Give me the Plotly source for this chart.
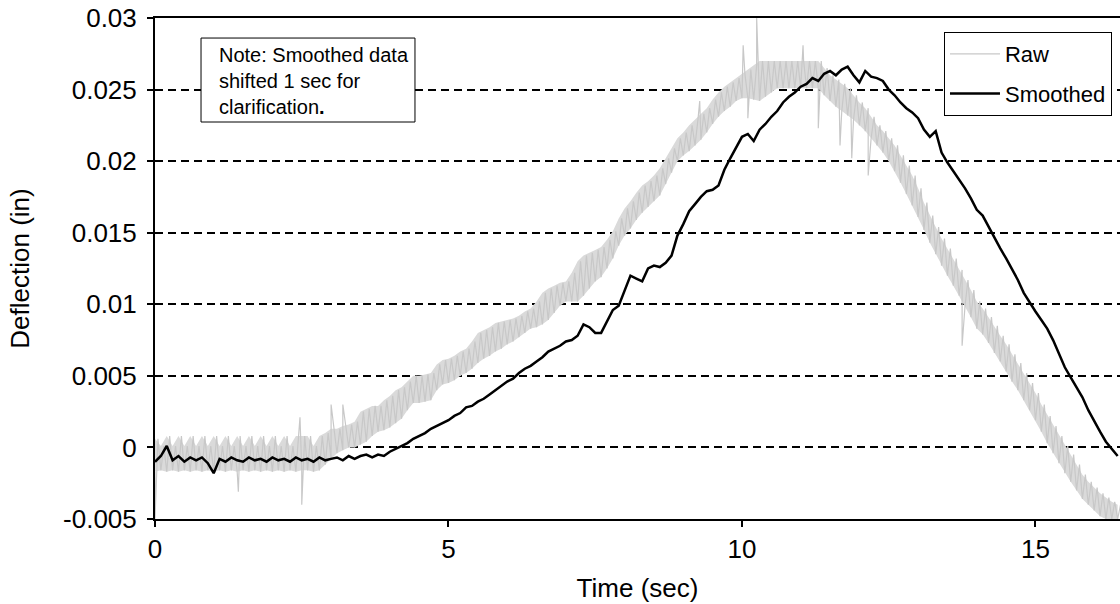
import numpy as np
import plotly.graph_objects as go

# ---------------- data ----------------
# sample times (s), 0.1 s spacing
time_s = np.round(np.arange(0, 16.45, 0.1), 1)

# Raw signal: lower / upper level of the quantised, rapidly toggling signal at each sample
raw_low = [
    -0.0017, -0.0016, -0.0017, -0.0016, -0.0017, -0.0016, -0.0017, -0.0016, -0.0017, -0.0016,
    -0.0017, -0.0016, -0.0017, -0.0016, -0.0017, -0.0016, -0.0017, -0.0016, -0.0017, -0.0016,
    -0.0017, -0.0016, -0.0017, -0.0016, -0.0017, -0.0016, -0.0016, -0.0017, -0.0016, -0.0012,
    -0.0008, -0.0004, -0.0002, 0.0000, 0.0000, 0.0002, 0.0004, 0.0008, 0.0011, 0.0012,
    0.0014, 0.0017, 0.0020, 0.0026, 0.0031, 0.0031, 0.0032, 0.0033, 0.0040, 0.0044,
    0.0045, 0.0047, 0.0050, 0.0052, 0.0055, 0.0059, 0.0062, 0.0064, 0.0067, 0.0069,
    0.0072, 0.0074, 0.0077, 0.0080, 0.0083, 0.0084, 0.0086, 0.0089, 0.0094, 0.0099,
    0.0102, 0.0102, 0.0102, 0.0106, 0.0111, 0.0116, 0.0119, 0.0125, 0.0132, 0.0141,
    0.0148, 0.0153, 0.0159, 0.0164, 0.0168, 0.0172, 0.0176, 0.0184, 0.0192, 0.0200,
    0.0204, 0.0207, 0.0211, 0.0215, 0.0220, 0.0226, 0.0231, 0.0235, 0.0238, 0.0242,
    0.0244, 0.0244, 0.0243, 0.0242, 0.0245, 0.0248, 0.0251, 0.0251, 0.0251, 0.0251,
    0.0251, 0.0251, 0.0251, 0.0251, 0.0246, 0.0242, 0.0238, 0.0235, 0.0232, 0.0229,
    0.0225, 0.0221, 0.0216, 0.0211, 0.0206, 0.0200, 0.0193, 0.0185, 0.0177, 0.0169,
    0.0161, 0.0152, 0.0143, 0.0135, 0.0127, 0.0120, 0.0113, 0.0106, 0.0099, 0.0091,
    0.0083, 0.0079, 0.0073, 0.0066, 0.0060, 0.0053, 0.0046, 0.0040, 0.0033, 0.0026,
    0.0019, 0.0011, 0.0003, -0.0004, -0.0011, -0.0018, -0.0024, -0.0030, -0.0036, -0.0040,
    -0.0044, -0.0048, -0.0050, -0.0050, -0.0050,
]
raw_high = [
    0.0006, 0.0001, 0.0008, 0.0001, 0.0008, 0.0001, 0.0008, 0.0001, 0.0008, 0.0001,
    0.0008, 0.0001, 0.0008, 0.0001, 0.0008, 0.0001, 0.0008, 0.0001, 0.0008, 0.0001,
    0.0008, 0.0001, 0.0008, 0.0001, 0.0008, 0.0008, 0.0008, 0.0001, 0.0008, 0.0010,
    0.0013, 0.0013, 0.0015, 0.0016, 0.0018, 0.0025, 0.0027, 0.0029, 0.0029, 0.0033,
    0.0036, 0.0040, 0.0042, 0.0046, 0.0050, 0.0050, 0.0051, 0.0052, 0.0058, 0.0061,
    0.0062, 0.0064, 0.0067, 0.0069, 0.0074, 0.0080, 0.0082, 0.0084, 0.0087, 0.0088,
    0.0089, 0.0090, 0.0092, 0.0095, 0.0097, 0.0102, 0.0108, 0.0111, 0.0113, 0.0115,
    0.0116, 0.0122, 0.0130, 0.0134, 0.0136, 0.0138, 0.0140, 0.0145, 0.0151, 0.0160,
    0.0167, 0.0172, 0.0178, 0.0183, 0.0186, 0.0190, 0.0195, 0.0202, 0.0209, 0.0216,
    0.0220, 0.0225, 0.0229, 0.0233, 0.0237, 0.0243, 0.0248, 0.0252, 0.0255, 0.0258,
    0.0261, 0.0264, 0.0267, 0.0270, 0.0270, 0.0270, 0.0270, 0.0270, 0.0270, 0.0270,
    0.0270, 0.0270, 0.0270, 0.0270, 0.0265, 0.0260, 0.0257, 0.0254, 0.0251, 0.0246,
    0.0241, 0.0237, 0.0231, 0.0225, 0.0221, 0.0216, 0.0211, 0.0204, 0.0197, 0.0190,
    0.0181, 0.0171, 0.0162, 0.0154, 0.0146, 0.0139, 0.0132, 0.0124, 0.0117, 0.0110,
    0.0102, 0.0097, 0.0091, 0.0085, 0.0078, 0.0072, 0.0065, 0.0059, 0.0052, 0.0045,
    0.0038, 0.0030, 0.0022, 0.0015, 0.0008, 0.0001, -0.0005, -0.0012, -0.0019, -0.0024,
    -0.0028, -0.0032, -0.0035, -0.0038, -0.0040,
]

# isolated spikes in the raw signal (time, value)
raw_spike_t = [0.0, 1.42, 2.47, 2.5, 3.0, 3.2, 9.28, 10.02, 10.1, 10.25, 11.04, 11.3, 11.67, 11.87, 12.15, 13.75]
raw_spike_v = [-0.0050, -0.0031, 0.0021, -0.0040, 0.0030, 0.0030, 0.0242, 0.0281, 0.0230, 0.0300,
               0.0281, 0.0223, 0.0211, 0.0202, 0.0190, 0.0071]

# Smoothed signal (already shifted 1 s in the original chart)
smoothed = [
    -0.0010, -0.0006, 0.0001, -0.0009, -0.0006, -0.0010, -0.0007, -0.0009, -0.0007, -0.0011,
    -0.0018, -0.0008, -0.0010, -0.0007, -0.0009, -0.0010, -0.0007, -0.0009, -0.0008, -0.0010,
    -0.0007, -0.0009, -0.0008, -0.0010, -0.0007, -0.0009, -0.0008, -0.0010, -0.0007, -0.0009,
    -0.0008, -0.0007, -0.0009, -0.0006, -0.0008, -0.0006, -0.0005, -0.0007, -0.0005, -0.0006,
    -0.0003, -0.0001, 0.0001, 0.0003, 0.0006, 0.0008, 0.0010, 0.0013, 0.0015, 0.0017,
    0.0019, 0.0022, 0.0024, 0.0028, 0.0029, 0.0032, 0.0034, 0.0037, 0.0040, 0.0043,
    0.0046, 0.0048, 0.0052, 0.0055, 0.0057, 0.0060, 0.0063, 0.0067, 0.0069, 0.0071,
    0.0074, 0.0075, 0.0078, 0.0086, 0.0084, 0.0080, 0.0080, 0.0088, 0.0096, 0.0099,
    0.0110, 0.0120, 0.0118, 0.0116, 0.0125, 0.0127, 0.0126, 0.0129, 0.0134, 0.0148,
    0.0156, 0.0165, 0.0170, 0.0175, 0.0179, 0.0180, 0.0183, 0.0194, 0.0202, 0.0209,
    0.0217, 0.0219, 0.0214, 0.0222, 0.0226, 0.0231, 0.0235, 0.0241, 0.0245, 0.0248,
    0.0252, 0.0254, 0.0258, 0.0256, 0.0261, 0.0263, 0.0260, 0.0264, 0.0266, 0.0260,
    0.0255, 0.0263, 0.0259, 0.0258, 0.0256, 0.0250, 0.0246, 0.0241, 0.0237, 0.0234,
    0.0230, 0.0222, 0.0217, 0.0221, 0.0206, 0.0199, 0.0193, 0.0187, 0.0181, 0.0174,
    0.0166, 0.0162, 0.0154, 0.0147, 0.0139, 0.0132, 0.0125, 0.0117, 0.0108, 0.0101,
    0.0095, 0.0089, 0.0083, 0.0075, 0.0065, 0.0056, 0.0049, 0.0042, 0.0035, 0.0026,
    0.0018, 0.0011, 0.0004, -0.0001, -0.0006,
]

x_ticks = [0, 5, 10, 15]
x_ticktext = ["0", "5", "10", "15"]
y_ticks = [-0.005, 0, 0.005, 0.01, 0.015, 0.02, 0.025, 0.03]
y_ticktext = ["-0.005", "0", "0.005", "0.01", "0.015", "0.02", "0.025", "0.03"]

series_names = ["Raw", "Smoothed"]
note_text = "Note: Smoothed data<br>shifted 1 sec for<br>clarification<b>.</b>"

# ---------------- build the toggling raw line (samples + spikes, in time order) ----------------
pts = []
for t, lo, hi in zip(time_s, raw_low, raw_high):
    pts.append((float(t), lo))
    pts.append((float(t) + 0.05, hi))
for ts, vs in zip(raw_spike_t, raw_spike_v):
    pts.append((ts + 1e-6, vs))
pts.sort(key=lambda p: p[0])
raw_x = [p[0] for p in pts]
raw_y = [p[1] for p in pts]

# envelope of the raw band (drawn as a light fill under the raw line)
band_x = list(time_s) + list(time_s[::-1])
band_y = list(raw_low) + list(raw_high[::-1])

FONT = "Liberation Sans, Arial, sans-serif"

fig = go.Figure()
fig.add_trace(go.Scatter(
    x=band_x, y=band_y, mode="lines", fill="toself",
    fillcolor="#dadada", line=dict(width=0, color="#dadada"),
    showlegend=False, hoverinfo="skip",
))
fig.add_trace(go.Scatter(
    x=raw_x, y=raw_y, mode="lines", name=series_names[0],
    line=dict(color="#c8c8c8", width=1.2),
    legendgroup="a",
))
fig.add_trace(go.Scatter(
    x=time_s, y=smoothed, mode="lines", name=series_names[1],
    line=dict(color="black", width=2.5),
    legendgroup="b",
))

fig.update_layout(
    width=1120, height=604,
    margin=dict(l=155, r=0, t=18, b=85),
    paper_bgcolor="white", plot_bgcolor="white",
    font=dict(family=FONT, color="black"),
    showlegend=True,
    legend=dict(
        x=0.8176, y=0.972, xanchor="left", yanchor="top",
        bordercolor="black", borderwidth=1, bgcolor="white",
        font=dict(size=22, family=FONT),
        traceorder="grouped", tracegroupgap=8,
        itemwidth=50,
    ),
    shapes=[dict(
        type="rect", xref="paper", yref="paper",
        x0=0.0477, x1=0.2694, y0=0.7924, y1=0.960,
        line=dict(color="black", width=1), fillcolor="white", layer="above",
    )],
    annotations=[dict(
        text=note_text, xref="paper", yref="paper",
        x=0.0642, y=0.953, xanchor="left", yanchor="top",
        showarrow=False, align="left",
        font=dict(size=20, family=FONT, color="black"),
    )],
)

fig.update_xaxes(
    range=[0, 16.44], automargin=False,
    tickmode="array", tickvals=x_ticks, ticktext=x_ticktext,
    ticks="outside", ticklen=6, tickwidth=2, tickcolor="black",
    tickfont=dict(size=26, family=FONT),
    showline=True, linecolor="black", linewidth=2, mirror=True,
    showgrid=False, zeroline=False,
    title=dict(text="Time (sec)", font=dict(size=26, family=FONT), standoff=16),
)
fig.update_yaxes(
    range=[-0.005, 0.03], automargin=False,
    tickmode="array", tickvals=y_ticks, ticktext=y_ticktext,
    ticks="outside", ticklen=6, tickwidth=2, tickcolor="black",
    tickfont=dict(size=26, family=FONT),
    ticklabeloverflow="allow",
    showline=True, linecolor="black", linewidth=2,
    showgrid=True, gridcolor="black", gridwidth=1.6, griddash="8px,5px",
    zeroline=False,
    ticklabelstandoff=5,
    title=dict(text="Deflection (in)", font=dict(size=26, family=FONT), standoff=26),
)

# remove the default 8 px page margin so the 1120x604 figure fills the window exactly
fig.write_html("out.html", config={"displayModeBar": False},
               post_script="document.body.style.margin='0';")
